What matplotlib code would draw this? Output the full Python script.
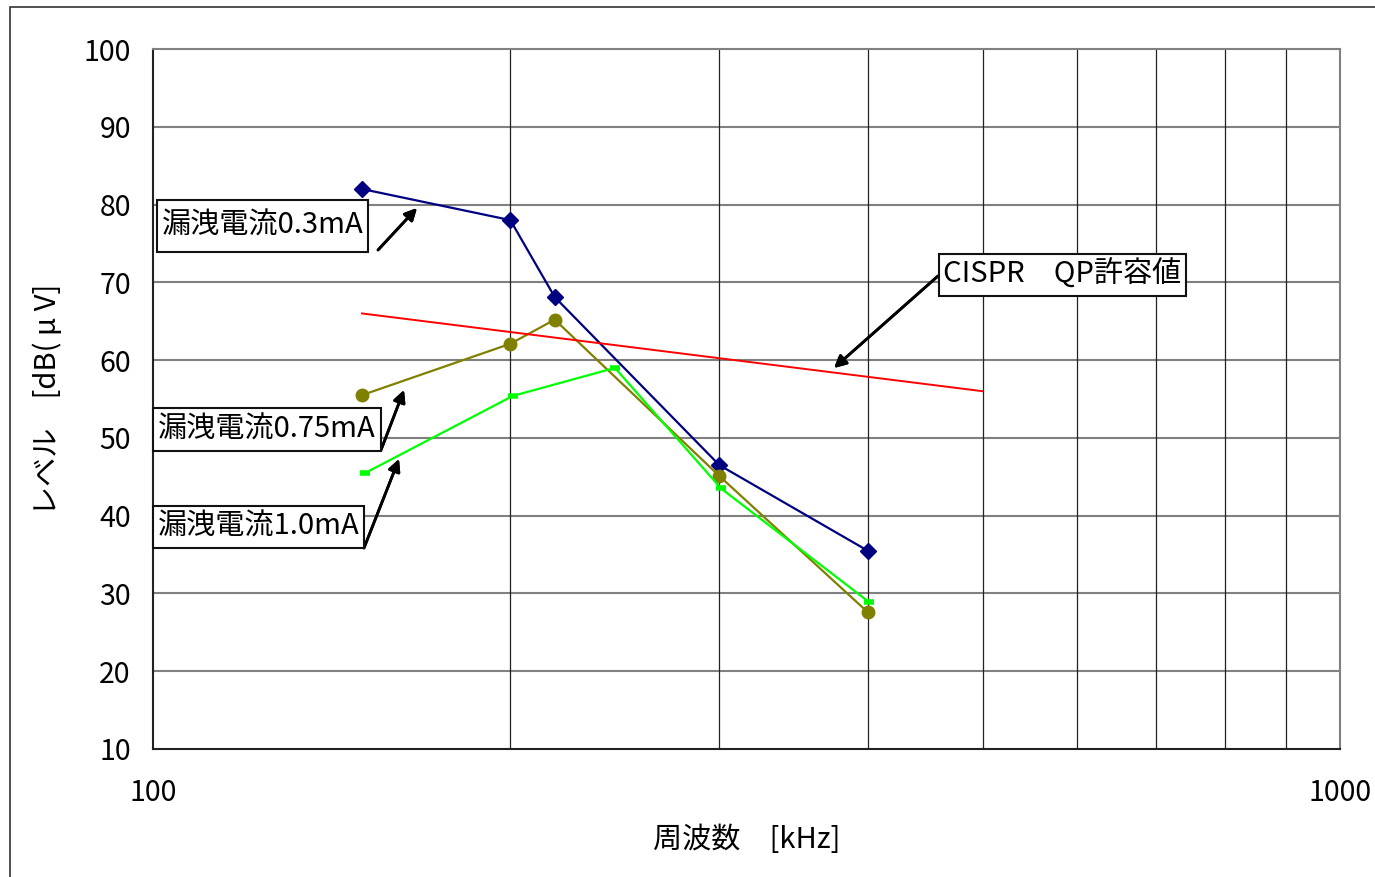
import matplotlib
matplotlib.use("Agg")
import matplotlib.pyplot as plt
from matplotlib.patches import Rectangle
from matplotlib.ticker import FixedLocator, NullFormatter

plt.rcParams['font.family'] = ['Noto Sans CJK JP', 'DejaVu Sans']

# frequency [kHz] and level [dB(uV)]
freq_a = [150, 200, 218, 300, 400]
level_03 = [82.0, 78.0, 68.1, 46.5, 35.5]
level_075 = [55.5, 62.1, 65.2, 45.1, 27.6]
freq_b = [151, 201, 245, 301, 401]
level_10 = [45.5, 55.4, 59.0, 43.5, 28.9]
cispr_freq = [150, 500]
cispr_level = [66, 56]

y_ticks = [10, 20, 30, 40, 50, 60, 70, 80, 90, 100]
x_major = [100, 1000]
x_minor = [200, 300, 400, 500, 600, 700, 800, 900]

W, H = 1375, 877
FS = 20.5
fig = plt.figure(figsize=(W / 100, H / 100), dpi=100)
ax = fig.add_axes([153 / W, 1 - 749 / H, (1340 - 153) / W, 700 / H])

def fx(px):
    return px / W

def fy(py):
    return 1 - py / H

# outer border of the chart area
fig.patches.append(Rectangle((fx(10), -0.05), 1.2, fy(7) + 0.05, transform=fig.transFigure,
                             fill=False, edgecolor='#333333', lw=1.2, clip_on=False))

ax.set_xscale('log')
ax.set_xlim(100, 1000)
ax.set_ylim(10, 100)

ax.plot(freq_a, level_03, color='#000080', lw=1.6, marker='D', ms=8)
ax.plot(freq_a, level_075, color='#808000', lw=1.6, marker='o', ms=9)
ax.plot(freq_b, level_10, color='#00ff00', lw=1.6, marker='_', ms=7, mew=4)
ax.plot(cispr_freq, cispr_level, color='#ff0000', lw=1.4)

ax.xaxis.set_major_locator(FixedLocator(x_major))
ax.xaxis.set_minor_locator(FixedLocator(x_minor))
ax.xaxis.set_minor_formatter(NullFormatter())
ax.set_xticklabels([str(v) for v in x_major])
ax.set_yticks(y_ticks)
ax.tick_params(axis='both', which='both', length=0, labelsize=FS)
ax.tick_params(axis='x', pad=21)
ax.tick_params(axis='y', pad=16)

for v in y_ticks[1:-1]:
    ax.axhline(v, color='#808080', lw=1.5, zorder=0)
for v in x_minor:
    ax.axvline(v, color='#222222', lw=0.9, zorder=0)

ax.spines['left'].set_color('#222222')
ax.spines['bottom'].set_color('#222222')
ax.spines['top'].set_color('#808080')
ax.spines['right'].set_color('#808080')
for s in ax.spines.values():
    s.set_linewidth(1.5)

ax.set_xlabel('周波数　[kHz]', fontsize=FS + 0.5, labelpad=12)
ax.set_ylabel('レベル　[dB( μ V]', fontsize=FS + 0.5, labelpad=15)

# annotation boxes (pixel positions of the reference)
boxes = [
    ('漏洩電流0.3mA', (157, 200, 368, 252), (378, 250), (417, 208)),
    ('漏洩電流0.75mA', (153, 408, 381, 451), (381, 450), (404, 390)),
    ('漏洩電流1.0mA', (153, 506, 364, 548), (364, 548), (399, 459)),
    ('CISPR　QP許容値', (939, 254, 1186, 296), (938, 276), (834, 368)),
]
for label, (x0, y0, x1, y1), tail, head in boxes:
    fig.patches.append(Rectangle((fx(x0), fy(y1)), fx(x1) - fx(x0), fy(y0) - fy(y1),
                                 transform=fig.transFigure, facecolor='white',
                                 edgecolor='#111111', lw=1.5, zorder=5))
    fig.text(fx((x0 + x1) / 2), fy((y0 + y1) / 2), label, fontsize=FS + 0.5,
             ha='center', va='center', zorder=6)
    fig.add_artist(plt.annotate('', xy=(fx(head[0]), fy(head[1])), xycoords='figure fraction',
                                xytext=(fx(tail[0]), fy(tail[1])), textcoords='figure fraction',
                                arrowprops=dict(arrowstyle='-|>', color='black', lw=2,
                                                mutation_scale=18, shrinkA=0, shrinkB=0)))

fig.savefig('out.png', dpi=100)
